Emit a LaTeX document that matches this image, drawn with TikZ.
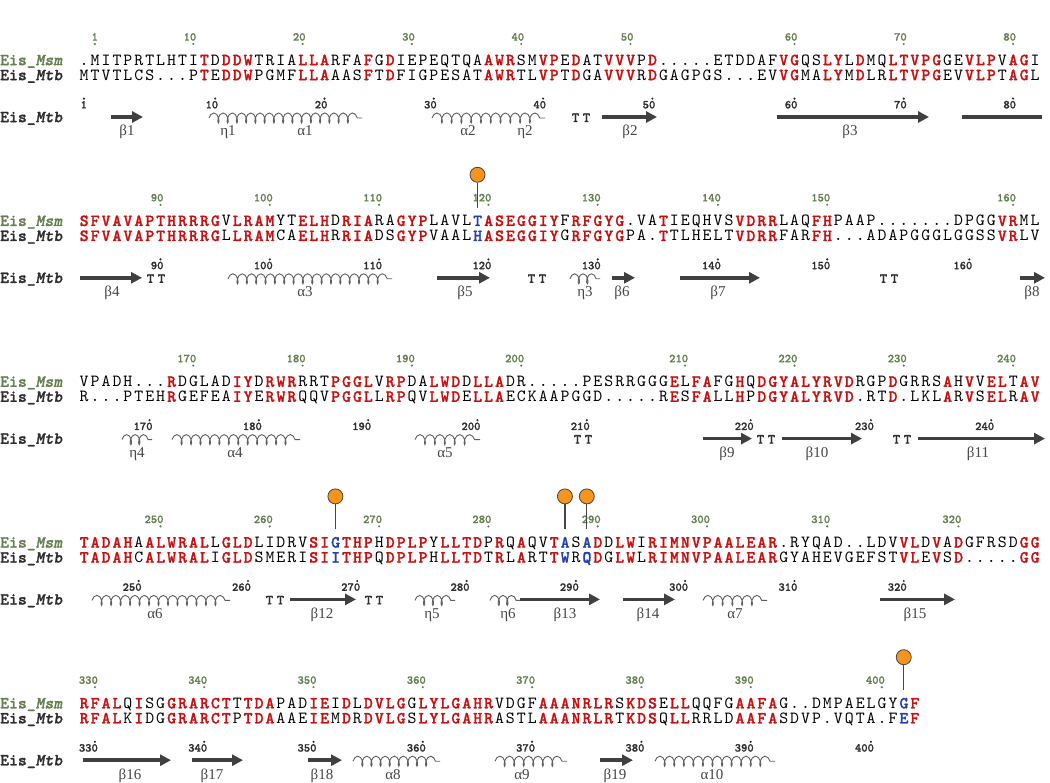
\documentclass[tikz,border=0pt]{standalone}
\usepackage{fontspec}
\newfontfamily\grk{Liberation Serif}
\newfontfamily\seqf{lmmono10-regular.otf}[BoldFont=lmmonolt10-bold.otf,ItalicFont=lmmono10-italic.otf,BoldItalicFont=lmmonolt10-boldoblique.otf,BoldFeatures={FakeBold=1.2},BoldItalicFeatures={FakeBold=1.2}]
\usetikzlibrary{arrows.meta,decorations.pathmorphing}
\definecolor{sred}{RGB}{200,16,16}
\definecolor{sblue}{RGB}{32,64,176}
\definecolor{msmgreen}{RGB}{100,128,80}
\definecolor{labdark}{RGB}{45,45,45}
\definecolor{labgray}{RGB}{70,70,70}
\definecolor{ssgray}{RGB}{64,64,64}
\definecolor{coilgray}{RGB}{95,95,95}
\definecolor{pinorange}{RGB}{247,148,30}
\definecolor{pinedge}{RGB}{70,70,70}
\newlength\pitch \setlength\pitch{10.93pt}
% sequence typesetting: lowercase = red bold, \bmark X = blue bold, other = black
\def\bmark{bmark}
\def\seqend{seqend}
\def\seqrow#1{\seqnext#1\seqend}
\def\seqnext#1{%
  \let\seqdo\relax
  \ifx\seqend#1\else
    \ifx\bmark#1\let\seqdo\seqblue\else\def\seqdo{\seqchar{#1}}\fi
  \fi
  \seqdo}
\def\seqblue#1{\makebox[\pitch]{\bfseries\color{sblue}#1}\seqnext}
\def\seqred#1{\makebox[\pitch]{\bfseries\color{sred}#1}}
\def\seqchar#1{\ifnum`#1>96\relax\uppercase{\seqred{#1}}\else\makebox[\pitch]{#1}\fi\seqnext}
\newcommand\colx[1]{84+(#1-1)*10.93}
\newcommand\topnums[1]{\foreach \n/\c in {#1}{\node[topnum] (tn\n) at ({\colx{\c}+3.15},-19.4) {\n}; \fill[msmgreen] ({\colx{\c}},-16) circle (1.2);}}
\newcommand\ssnums[1]{\foreach \n/\c in {#1}{\node[ssnum] (sn\n) at ({\colx{\c}+3.15},48.4) {\n}; \fill[labdark] ({\colx{\c}},38.6) circle (1.2);}}
\newcommand\sarr[5]{\draw[ssarrow] (#2,57) -- (#3,57); \node[sslab] (#1) at (#4,76) {#5};}
\newcommand\shel[5]{\pgfmathsetmacro\segl{(#3-#2)/(max(1,round((#3-#2)/9.5-0.5))+0.55)}%
  \draw[helix,decoration={coil,amplitude=5pt,segment length=\segl pt,aspect=0.5}] (#2,58) -- (#3,58); \node[sslab] (#1) at (#4,76) {#5};}
\newcommand\slab[3]{\node[sslab] (#1) at (#2,76) {#3};}
\newcommand\sturn[2]{\node[turn] (#1) at (#2,62) {\makebox[\pitch]{T}\makebox[\pitch]{T}};}
\newcommand\pin[2]{\node[pinball] (#1) at ({\colx{#2}},-46) {}; \coordinate (#1e) at ({\colx{#2}},-13); \draw[pinstem] (#1) -- (#1e);}
\newcommand\rows[3]{%
  \node[namelab,text=msmgreen] (nm#1) at (0,5.2) {Eis\_\textit{Msm}};
  \node[seq] (msm#1) at (78.535,5.2) {\seqrow{#2}};
  \node[namelab,text=labdark] (nt#1) at (0,20.2) {Eis\_\textit{Mtb}};
  \node[seq] (mtb#1) at (78.535,20.2) {\seqrow{#3}};
  \node[namelab,text=labdark] (ns#1) at (0,62.2) {Eis\_\textit{Mtb}};}
\begin{document}
\begin{tikzpicture}[x=1pt,y=-1pt,
  seq/.style={anchor=base west,inner sep=0pt,font=\seqf\fontsize{17}{19}\selectfont},
  namelab/.style={anchor=base west,inner sep=0pt,font=\seqf\bfseries\fontsize{16.9}{18}\selectfont},
  topnum/.style={anchor=base east,inner sep=0pt,font=\seqf\bfseries\fontsize{12}{13}\selectfont,text=msmgreen},
  ssnum/.style={anchor=base east,inner sep=0pt,font=\seqf\bfseries\fontsize{12}{13}\selectfont,text=labdark},
  sslab/.style={anchor=base,inner sep=0pt,font=\grk\fontsize{15}{16}\selectfont,text=labgray},
  turn/.style={anchor=base,inner sep=0pt,font=\seqf\bfseries\fontsize{14}{15}\selectfont,text=labdark},
  ssarrow/.style={draw=ssgray,line width=3.6pt,-{Triangle[length=11pt,width=11pt]}},
  ssline/.style={draw=ssgray,line width=3.6pt},
  helix/.style={draw=coilgray,line width=0.9pt,decorate},
  pinball/.style={circle,draw=pinedge,line width=0.8pt,fill=pinorange,minimum size=15pt,inner sep=0pt},
  pinstem/.style={draw=pinedge,line width=1.2pt}]
\useasboundingbox (0,0) rectangle (1050,783);
\fill[white] (0,0) rectangle (1050,783);

% ---------------- block 1
\begin{scope}[shift={(0,60)}]
\rows{1}{.MITPRTLHTItDddwTRIAllaRFAfGdIEPEQTQAawrSMvpEdATvvvPd.....ETDDAFvgQSlyLdMQltvpgGEvlpVagI}{MTVTLCS...PtEddwPGMFllaAASfTdFIGPESATawrTLvpTdGAvvvRdGAGPGS...EVvgMAlyMdLRltvpgEVvlpTagL}
\topnums{1/2,10/11,20/21,30/31,40/41,50/51,60/66,70/76,80/86}
\ssnums{1/1,10/13,20/23,30/33,40/43,50/53,60/66,70/76,80/86}
\sarr{s1b1}{111}{143}{127}{β1}
\shel{s1e1}{209}{362}{228}{η1} \slab{s1a1}{305}{α1}
\shel{s1a2}{432}{545}{468}{α2} \slab{s1e2}{525}{η2}
\sturn{s1t1}{581}
\sarr{s1b2}{602}{657}{630}{β2}
\sarr{s1b3}{777}{929}{850}{β3}
\draw[ssline] (962,57) -- (1042,57);
\end{scope}

% ---------------- block 2
\begin{scope}[shift={(0,220.8)}]
\rows{2}{sfvavapthrrrgVlramYTelhDriaRAgypLAVL\bmark TaseggiyFrfgyg.VAtIEQHVSvdrrLAQfhPAAP.......DPGGvrML}{sfvavapthrrrgLlramCAelhRriaDSgypVAAL\bmark HaseggiyGrfgygPA.tTLHELTvdrrFARfh...ADAPGGGLGGSSvrLV}
\topnums{90/8,100/18,110/28,120/38,130/48,140/59,150/69,160/86}
\ssnums{90/8,100/18,110/28,120/38,130/48,140/59,150/69,160/82}
\pin{p1}{37}
\sarr{s2b4}{80}{142}{112}{β4}
\sturn{s2t1}{156}
\shel{s2a3}{228}{392}{305}{α3}
\sarr{s2b5}{437}{490}{465}{β5}
\sturn{s2t2}{537}
\shel{s2e3}{570}{600}{585}{η3}
\sarr{s2b6}{612}{635}{622}{β6}
\sarr{s2b7}{680}{760}{718}{β7}
\sturn{s2t3}{889}
\sarr{s2b8}{1020}{1045}{1032}{β8}
\end{scope}

% ---------------- block 3
\begin{scope}[shift={(0,381.6)}]
\rows{3}{VPADH...rDGLADiyDrwrRRTpgglVrpDAlwdDllaDR.....PESRRGGGeLfaFGhQdgyalyrvdRGPdGRRSaHvVelTav}{R...PTEHrGEFEAiyErwrQQVpgglLrpQVlwdEllaECKAAPGGD.....ReSfaLLhPdgyalyrvd.RTd.LKLaRvSelRav}
\topnums{170/11,180/21,190/31,200/41,210/56,220/66,230/76,240/86}
\ssnums{170/7,180/17,190/27,200/37,210/47,220/62,230/73,240/84}
\shel{s3e4}{122}{152}{137}{η4}
\shel{s3a4}{172}{300}{235}{α4}
\shel{s3a5}{415}{480}{445}{α5}
\sturn{s3t1}{583}
\sarr{s3b9}{703}{752}{727}{β9}
\sturn{s3t2}{766}
\sarr{s3b10}{782}{862}{817}{β10}
\sturn{s3t3}{902}
\sarr{s3b11}{918}{1045}{978}{β11}
\end{scope}

% ---------------- block 4
\begin{scope}[shift={(0,542.4)}]
\rows{4}{tadahAalwralLgldLIDRVsi\bmark GthpHdplpYlltdPrQaQVt\bmark AS\bmark AdDlwIrimnvpaalear.RYQAD..LDVvlDvAdGFRSDgg}{tadahCalwralIgldSMERIsi\bmark IthpQdplpHlltdTrLaRTt\bmark WR\bmark QdGlwLrimnvpaalearGYAHEVGEFSTvlEvSd.....gg}
\topnums{250/8,260/18,270/28,280/38,290/48,300/58,310/69,320/81}
\ssnums{250/6,260/16,270/26,280/36,290/46,300/56,310/66,320/76}
\pin{p2}{24}
\pin{p3}{45}
\pin{p4}{47}
\shel{s4a6}{92}{230}{155}{α6}
\sturn{s4t1}{275}
\sarr{s4b12}{290}{356}{322}{β12}
\sturn{s4t2}{374}
\shel{s4e5}{415}{455}{432}{η5}
\shel{s4e6}{490}{520}{508}{η6}
\sarr{s4b13}{520}{600}{565}{β13}
\sarr{s4b14}{623}{675}{648}{β14}
\shel{s4a7}{703}{767}{735}{α7}
\sarr{s4b15}{880}{955}{915}{β15}
\end{scope}

% ---------------- block 5
\begin{scope}[shift={(0,703.2)}]
\rows{5}{rfalQiSGgrarctTtdaPADieIdLdvlgGlylgahrVDGFaaanrlrSkdsEllQQFGaafaG..DMPAELGY\bmark Gf}{rfalKiDGgrarctPtdaAAEieMdRdvlgSlylgahrASTLaaanrlrTkdsQllRRLDaafaSDVP.VQTA.F\bmark Ef}
\topnums{330/2,340/12,350/22,360/32,370/42,380/52,390/62,400/74}
\ssnums{330/2,340/12,350/22,360/32,370/42,380/52,390/62,400/73}
\pin{p5}{76}
\sarr{s5b16}{83}{171}{130}{β16}
\sarr{s5b17}{192}{243}{212}{β17}
\sarr{s5b18}{308}{342}{322}{β18}
\shel{s5a8}{353}{440}{393}{α8}
\shel{s5a9}{495}{567}{522}{α9}
\sarr{s5b19}{600}{633}{615}{β19}
\shel{s5a10}{655}{775}{712}{α10}
\end{scope}
\end{tikzpicture}
\end{document}
